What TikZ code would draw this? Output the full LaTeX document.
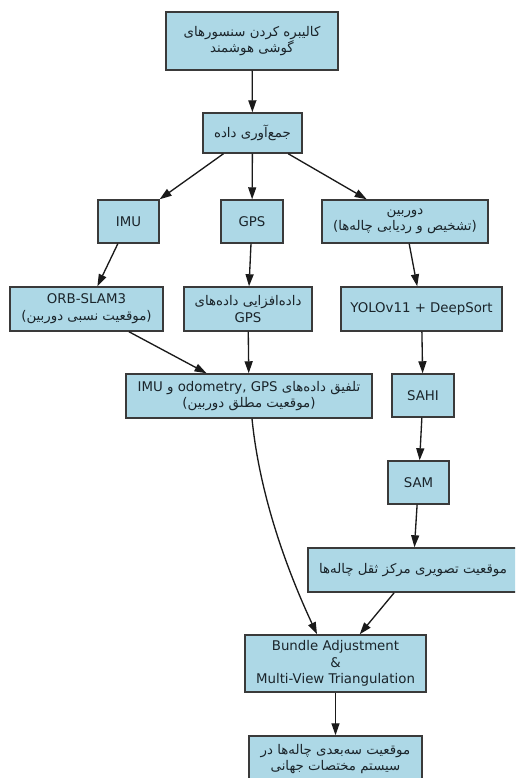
\documentclass[tikz,border=0pt]{standalone}
\usepackage{fontspec}
\setmainfont{DejaVu Sans}
\newfontfamily\fa[Script=Arabic]{DejaVu Sans}
\TeXXeTstate=1
\usetikzlibrary{arrows.meta,calc}
\newcommand\rl[1]{{\fa\beginR #1\endR}}
\definecolor{boxfill}{HTML}{ADD8E6}
\definecolor{boxline}{HTML}{3A3A3A}
\definecolor{textc}{HTML}{1A242A}
\definecolor{edgec}{HTML}{1A1A1A}
\tikzset{
  box/.style={draw=boxline, fill=boxfill, line width=1.1pt, inner sep=0pt,
    align=center, text=textc, font=\fontsize{10}{12.5}\selectfont},
  sz/.style 2 args={minimum width=#1*0.75pt, minimum height=#2*0.75pt},
  arr/.style={draw=edgec, line width=1pt, -{Triangle[length=9pt,width=6pt]}}
}
\begin{document}
\begin{tikzpicture}[x=0.75pt,y=-0.75pt]
\useasboundingbox (0,0) rectangle (515,778);
\clip (0,0) rectangle (515,778);
\node[box, sz={172}{58}] (calib) at (252,41) {\rl{کالیبره کردن سنسورهای}\\\rl{گوشی هوشمند}};
\node[box, sz={99}{40}] (collect) at (252.5,133) {\rl{جمع‌آوری داده}};
\node[box, sz={61}{43}] (imu) at (128.5,221.5) {IMU};
\node[box, sz={62}{43}] (gps) at (252,221.5) {GPS};
\node[box, sz={166}{43}] (cam) at (405,221.5) {\rl{دوربین}\\\rl{(تشخیص و ردیابی چاله‌ها)}};
\node[box, sz={153}{44}] (orb) at (86.5,309) {ORB-SLAM3\\\rl{(موقعیت نسبی دوربین)}};
\node[box, sz={128}{44}] (aug) at (248,309) {\rl{داده‌افزایی داده‌های}\\GPS};
\node[box, sz={161}{44}] (yolo) at (421.5,309) {YOLOv11 + DeepSort};
\node[box, sz={246}{44}] (fusion) at (249,396) {\rl{تلفیق داده‌های \beginL odometry, GPS\endL{} و IMU}\\\rl{(موقعیت مطلق دوربین)}};
\node[box, sz={62}{43}] (sahi) at (423,395.5) {SAHI};
\node[box, sz={61}{43}] (sam) at (418.5,482.5) {SAM};
\node[box, sz={210}{44}] (cent) at (413,570) {\rl{موقعیت تصویری مرکز ثقل چاله‌ها}};
\node[box, sz={181}{57}] (ba) at (335.5,663.5) {Bundle Adjustment\\\&\\Multi-View Triangulation};
\node[box, sz={173}{46}] (final) at (335.5,759) {\rl{موقعیت سه‌بعدی چاله‌ها در}\\\rl{سیستم مختصات جهانی}};
\draw[arr] (calib) -- (collect);
\draw[arr] (collect) -- (imu);
\draw[arr] (collect) -- (gps);
\draw[arr] (collect) -- (cam);
\draw[arr] (imu) -- (orb);
\draw[arr] (gps) -- (aug);
\draw[arr] (cam) -- (yolo);
\draw[arr] (orb) -- (fusion);
\draw[arr] (aug) -- (fusion);
\draw[arr] (yolo) -- (sahi);
\draw[arr] (sahi) -- (sam);
\draw[arr] (sam) -- (cent);
\draw[arr] ($(fusion.south)+(3,0)$) .. controls +(8,80) and +(-28,-60) .. ($(ba.north)+(-18.5,0)$);
\draw[arr] (cent) -- (ba);
\draw[arr] (ba) -- (final);
\end{tikzpicture}
\end{document}
